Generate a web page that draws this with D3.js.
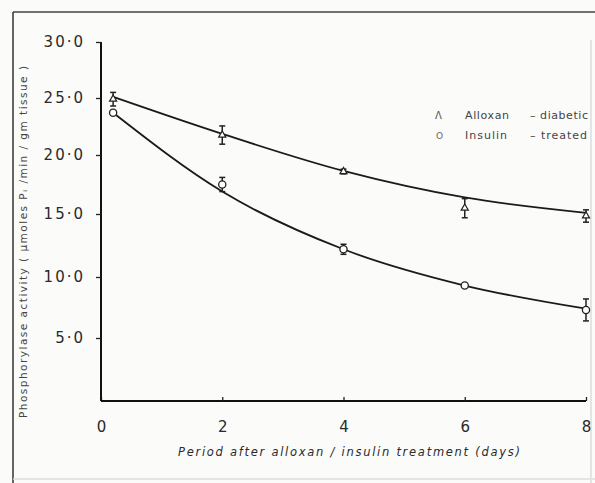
<!DOCTYPE html>
<html>
<head>
<meta charset="utf-8">
<script src="https://cdn.jsdelivr.net/npm/d3@7"></script>
<style>
  body { margin: 0; background: #fbfbfa; }
  svg { display: block; }
  text { font-family: "DejaVu Sans", sans-serif; fill: #2a2a2a; }
</style>
</head>
<body>
<script>
// values
var days = [0.2, 2, 4, 6, 8];
var alloxan = [24.9, 21.75, 18.6, 15.5, 14.85];
var alloxanErr = [0.6, 0.8, 0.2, 0.8, 0.5];
var insulin = [23.7, 17.5, 12.2, 9.3, 7.3];
var insulinErr = [0.2, 0.6, 0.4, 0.15, 0.9];
// hand drawn fitted curves
var alloxanFit = [25.1, 21.85, 18.65, 16.4, 15.1];
var insulinFit = [23.7, 16.9, 12.2, 9.3, 7.4];
var xTicks = [0, 2, 4, 6, 8];
var yTicks = [5, 10, 15, 20, 25, 30];

var width = 595, height = 483;

var svg = d3.select("body").append("svg")
  .attr("width", width)
  .attr("height", height);

// frame of the scanned page
svg.append("line").attr("x1", 13).attr("y1", 12).attr("x2", 595).attr("y2", 12)
  .attr("stroke", "#444").attr("stroke-width", 1.5);
svg.append("line").attr("x1", 13).attr("y1", 12).attr("x2", 13).attr("y2", 483)
  .attr("stroke", "#333").attr("stroke-width", 1.5);
svg.append("line").attr("x1", 13).attr("y1", 479).attr("x2", 595).attr("y2", 479)
  .attr("stroke", "#ddd").attr("stroke-width", 1.5);
svg.append("line").attr("x1", 591).attr("y1", 40).attr("x2", 591).attr("y2", 483)
  .attr("stroke", "#e4e4e4").attr("stroke-width", 2);

var x = d3.scaleLinear().domain([0, 8]).range([101, 586]);
// the scan is slightly uneven, so follow the printed tick spacing
var y = d3.scaleLinear()
  .domain([0, 5, 10, 15, 20, 25, 30])
  .range([401, 338, 277, 214, 155, 98, 42]);

// axes
var xAxis = svg.append("g")
  .attr("transform", "translate(0," + y(0) + ")")
  .call(d3.axisBottom(x).tickValues(xTicks).tickSize(-4).tickPadding(20)
    .tickFormat(d3.format("d")));
xAxis.selectAll("text").attr("font-size", 15).style("font-family", "DejaVu Sans");

var yAxis = svg.append("g")
  .attr("transform", "translate(" + x(0) + ",0)")
  .call(d3.axisLeft(y).tickValues(yTicks).tickSize(5).tickPadding(11)
    .tickFormat(function(d){ return d + "·0"; }));
yAxis.selectAll("text").attr("font-size", 15).attr("letter-spacing", 2)
  .style("font-family", "DejaVu Sans");

svg.selectAll(".domain").attr("stroke", "#111").attr("stroke-width", 2);
svg.selectAll(".tick line").attr("stroke", "#222").attr("stroke-width", 1.3);
// y axis stops at the 30 tick, x axis at 8
xAxis.select(".domain").attr("d", "M" + x(0) + ",0H" + x(8));
yAxis.select(".domain").attr("d", "M0," + y(30) + "V" + y(0));

// fitted curves
var line = d3.line()
  .x(function(d){ return x(d[0]); })
  .y(function(d){ return y(d[1]); })
  .curve(d3.curveMonotoneX);

[alloxanFit, insulinFit].forEach(function(fit){
  svg.append("path")
    .datum(days.map(function(d, i){ return [d, fit[i]]; }))
    .attr("d", line)
    .attr("fill", "none")
    .attr("stroke", "#1a1a1a")
    .attr("stroke-width", 1.8);
});

// error bars
function errorBars(vals, errs){
  var g = svg.append("g");
  days.forEach(function(d, i){
    var cx = x(d), top = y(vals[i] + errs[i]), bot = y(vals[i] - errs[i]);
    g.append("line").attr("x1", cx).attr("x2", cx).attr("y1", top).attr("y2", bot)
      .attr("stroke", "#222").attr("stroke-width", 1.5);
    [top, bot].forEach(function(yy){
      g.append("line").attr("x1", cx - 3).attr("x2", cx + 3).attr("y1", yy).attr("y2", yy)
        .attr("stroke", "#222").attr("stroke-width", 1.5);
    });
  });
}
errorBars(alloxan, alloxanErr);
errorBars(insulin, insulinErr);

// markers
var tri = d3.symbol().type(d3.symbolTriangle).size(22);
svg.selectAll(".tri")
  .data(days)
  .enter()
  .append("path")
  .attr("d", tri)
  .attr("transform", function(d, i){ return "translate(" + x(d) + "," + y(alloxan[i]) + ")"; })
  .attr("fill", "#fff")
  .attr("stroke", "#222")
  .attr("stroke-width", 1.2);

svg.selectAll(".circ")
  .data(days)
  .enter()
  .append("circle")
  .attr("cx", function(d){ return x(d); })
  .attr("cy", function(d, i){ return y(insulin[i]); })
  .attr("r", 3.6)
  .attr("fill", "#fff")
  .attr("stroke", "#222")
  .attr("stroke-width", 1.3);

// legend
var legend = svg.append("g");
legend.append("text").text("Λ").attr("x", 435).attr("y", 119).attr("font-size", 10).style("fill", "#555");
legend.append("text").text("Alloxan").attr("x", 465).attr("y", 119).attr("font-size", 11)
  .attr("textLength", 44).attr("lengthAdjust", "spacing").style("fill", "#444");
legend.append("text").text("– diabetic").attr("x", 530).attr("y", 119).attr("font-size", 11)
  .attr("textLength", 58).attr("lengthAdjust", "spacing").style("fill", "#444");
legend.append("text").text("O").attr("x", 436).attr("y", 139).attr("font-size", 9).style("fill", "#666");
legend.append("text").text("Insulin").attr("x", 465).attr("y", 139).attr("font-size", 11)
  .attr("textLength", 42).attr("lengthAdjust", "spacing").style("fill", "#444");
legend.append("text").text("– treated").attr("x", 530).attr("y", 139).attr("font-size", 11)
  .attr("textLength", 57).attr("lengthAdjust", "spacing").style("fill", "#444");

// axis titles
svg.append("text")
  .text("Period after alloxan / insulin treatment (days)")
  .attr("x", 178).attr("y", 456)
  .attr("font-size", 11.5)
  .attr("font-style", "italic")
  .attr("textLength", 342).attr("lengthAdjust", "spacing");

svg.append("text")
  .attr("transform", "translate(27,418) rotate(-90)")
  .attr("font-size", 10.5)
  .attr("textLength", 352).attr("lengthAdjust", "spacing")
  .style("fill", "#444")
  .text("Phosphorylase activity ( µmoles Pᵢ /min / gm tissue )");
</script>
</body>
</html>
